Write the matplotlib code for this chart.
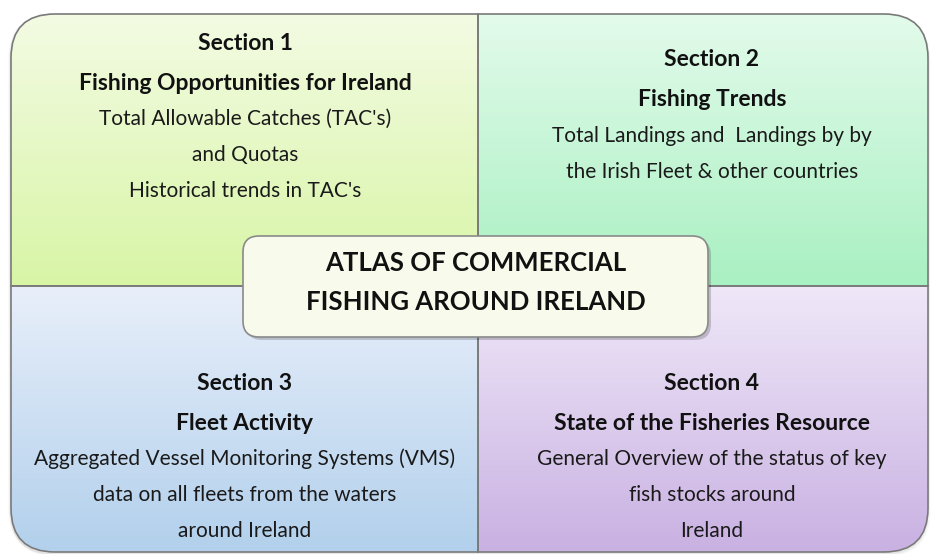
import numpy as np
import matplotlib.pyplot as plt
from matplotlib.path import Path
from matplotlib.patches import PathPatch, FancyBboxPatch
from matplotlib.colors import to_rgb

# quadrant text: (title, subtitle, body lines)
sections = ["Section 1", "Section 2", "Section 3", "Section 4"]
subtitles = ["Fishing Opportunities for Ireland", "Fishing Trends",
             "Fleet Activity", "State of the Fisheries Resource"]
bodies = [
    ["Total Allowable Catches (TAC's)", "and Quotas", "Historical trends in TAC's"],
    ["Total Landings and  Landings by by", "the Irish Fleet & other countries"],
    ["Aggregated Vessel Monitoring Systems (VMS)", "data on all fleets from the waters",
     "around Ireland"],
    ["General Overview of the status of key", "fish stocks around", "Ireland"],
]
center_lines = ["ATLAS OF COMMERCIAL", "FISHING AROUND IRELAND"]

# gradient colours, top -> bottom
grads = [("#f3fbe3", "#d8f5a6"), ("#e3fbeb", "#a9f0c2"),
         ("#e8effa", "#b2d0ec"), ("#efe8f8", "#c9b1e2")]

FONT = "Lato"
W, H = 934, 554
L, R, T, B = 11, 928, 14, 552
XM, YM = 478, 286
RAD = 44


def quad_path(x0, y0, x1, y1, r, which):
    pts = [(x0, y0), (x1, y0), (x1, y1), (x0, y1)]
    verts, codes = [], []
    for i, c in enumerate(pts):
        if i == which:
            p = np.array(pts[i - 1]); n = np.array(pts[(i + 1) % 4]); c = np.array(c)
            a = c + r * (p - c) / np.linalg.norm(p - c)
            b = c + r * (n - c) / np.linalg.norm(n - c)
            verts += [tuple(a), tuple(c), tuple(b)]
            codes += [Path.LINETO, Path.CURVE3, Path.CURVE3]
        else:
            verts.append(c)
            codes.append(Path.LINETO)
    codes[0] = Path.MOVETO
    verts.append(verts[0]); codes.append(Path.CLOSEPOLY)
    return Path(verts, codes)


def gradient(c0, c1, n=256):
    a, b = np.array(to_rgb(c0)), np.array(to_rgb(c1))
    t = np.linspace(0, 1, n)[:, None]
    return (a + (b - a) * t)[:, None, :]


fig = plt.figure(figsize=(W / 100, H / 100), dpi=100)
ax = fig.add_axes([0, 0, 1, 1])
ax.set_xlim(0, W)
ax.set_ylim(H, 0)
ax.axis("off")

boxes = [(L, T, XM, YM, 0), (XM, T, R, YM, 1), (L, YM, XM, B, 3), (XM, YM, R, B, 2)]

# soft shadow under the whole block
for k, a in enumerate([0.05, 0.04, 0.03]):
    sh = FancyBboxPatch((L - 1 + k, T + 1 + k), R - L, B - T,
                        boxstyle="round,pad=0,rounding_size=%d" % RAD,
                        fc="none", ec="#000000", lw=2, alpha=a, zorder=0)
    ax.add_patch(sh)

for (x0, y0, x1, y1, w), (c0, c1) in zip(boxes, grads):
    path = quad_path(x0, y0, x1, y1, RAD, w)
    patch = PathPatch(path, fc="none", ec="#7a7a7a", lw=1.2, zorder=3)
    ax.add_patch(patch)
    im = ax.imshow(gradient(c0, c1), extent=(x0, x1, y1, y0), aspect="auto", zorder=1)
    im.set_clip_path(patch)

# quadrant text
centers = [(245, 43), (712, 60), (245, 383), (712, 383)]
for (cx, y), sec, sub, body in zip(centers, sections, subtitles, bodies):
    ax.text(cx, y, sec, ha="center", va="center", fontsize=16.5, fontweight="bold",
            family=FONT, color="#111111", zorder=5)
    ax.text(cx, y + 40, sub, ha="center", va="center", fontsize=16.5, fontweight="bold",
            family=FONT, color="#111111", zorder=5)
    for i, line in enumerate(body):
        ax.text(cx, y + 76 + i * 36, line, ha="center", va="center", fontsize=15,
                family=FONT, color="#1a1a1a", zorder=5)

# centre box
cx0, cy0, cx1, cy1 = 243, 236, 708, 337
shadow = FancyBboxPatch((cx0 + 3, cy0 + 3), cx1 - cx0, cy1 - cy0,
                        boxstyle="round,pad=0,rounding_size=16",
                        fc="#000000", ec="none", alpha=0.18, zorder=6)
ax.add_patch(shadow)
cbox = FancyBboxPatch((cx0, cy0), cx1 - cx0, cy1 - cy0,
                      boxstyle="round,pad=0,rounding_size=16",
                      fc="#f8fbeb", ec="#8a8a8a", lw=1.2, zorder=7)
ax.add_patch(cbox)
for i, line in enumerate(center_lines):
    ax.text((cx0 + cx1) / 2, 263 + i * 39, line, ha="center", va="center", fontsize=18.5,
            fontweight="bold", family=FONT, color="#111111", zorder=8)

fig.savefig("out.png", dpi=100, facecolor="white")
